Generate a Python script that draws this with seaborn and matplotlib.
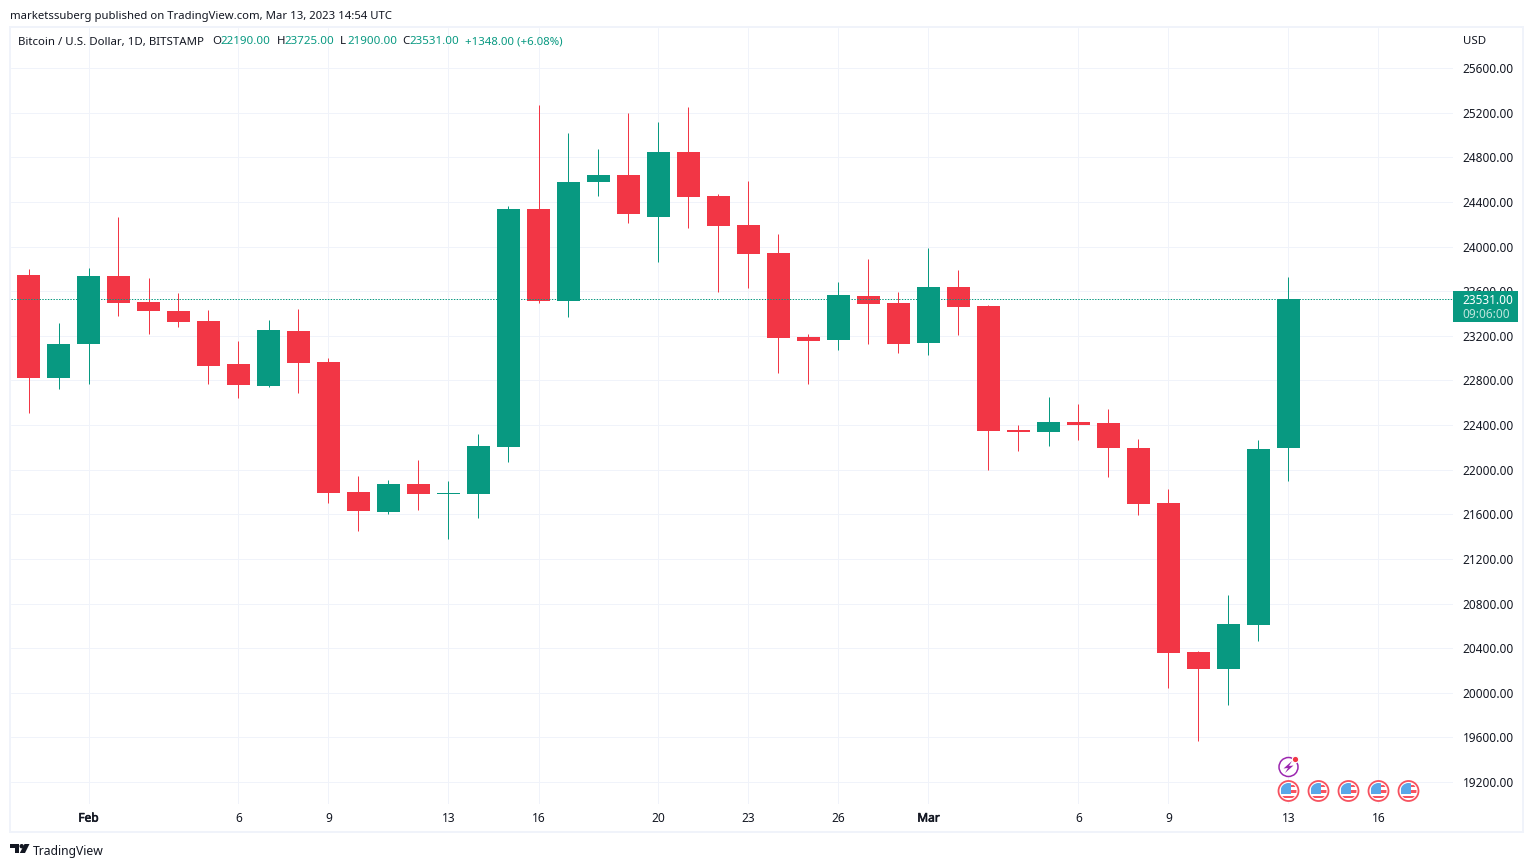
import numpy as np
import pandas as pd
import matplotlib
matplotlib.use("Agg")
import matplotlib.pyplot as plt
from matplotlib.patches import Rectangle, Circle, Polygon
from matplotlib.transforms import Affine2D
import matplotlib.patheffects as pe
import seaborn as sns

opens = [23745, 22821, 23126, 23736, 23503, 23422, 23332, 22947, 22750, 23243, 22965,
         21800, 21620, 21871, 21782, 21782, 22203, 24336, 23512, 24578, 24641, 24265,
         24847, 24453, 24193, 23942, 23189, 23162, 23557, 23494, 23135, 23637, 23467,
         22355, 22337, 22427, 22418, 22194, 21701, 20365, 20213, 20607, 22190]
highs = [23799, 23315, 23807, 24265, 23718, 23583, 23431, 23153, 23341, 23440, 23001,
         21943, 21907, 22086, 21898, 22319, 24363, 25269, 25018, 24874, 25197, 25116,
         25251, 24471, 24587, 24112, 23216, 23682, 23888, 23592, 23987, 23790, 23476,
         22400, 22651, 22588, 22544, 22275, 21826, 20370, 20876, 22266, 23725]
lows = [22508, 22723, 22768, 23377, 23216, 23279, 22768, 22642, 22740, 22687, 21701,
        21450, 21602, 21638, 21378, 21566, 22068, 23490, 23368, 24453, 24211, 23861,
        24166, 23592, 23628, 22866, 22768, 23072, 23126, 23046, 23028, 23207, 21997,
        22167, 22212, 22266, 21934, 21593, 20043, 19568, 19890, 20464, 21900]
closes = [22821, 23126, 23736, 23494, 23422, 23323, 22929, 22759, 23252, 22956, 21791,
          21629, 21871, 21782, 21790, 22212, 24336, 23512, 24578, 24641, 24292, 24847,
          24444, 24184, 23933, 23180, 23153, 23565, 23485, 23126, 23637, 23458, 22346,
          22340, 22427, 22400, 22194, 21692, 20356, 20213, 20616, 22185, 23531]

price_ticks = list(range(19200, 25601, 400))
time_tick_pos = [2, 7, 10, 14, 17, 21, 24, 27, 30, 35, 38, 42, 45]
time_tick_lab = ["Feb", "6", "9", "13", "16", "20", "23", "26", "Mar", "6", "9", "13", "16"]

GREEN = "#089981"
RED = "#F23645"
INK = "#131722"
GRID = "#f0f3fa"

W, H = 1533, 867
sns.set_theme(style="white")
FONT = "Noto Sans"
plt.rcParams["font.family"] = [FONT, "DejaVu Sans"]

fig = plt.figure(figsize=(W / 100, H / 100), dpi=100, facecolor="white")
px = Affine2D().scale(1, -1).translate(0, H)  # figure pixels, y downward

AX_L, AX_R, AX_T, AX_B = 11, 1453, 28, 804
ax = fig.add_axes([AX_L / W, 1 - AX_B / H, (AX_R - AX_L) / W, (AX_B - AX_T) / H])

df = pd.DataFrame({"i": np.arange(len(opens)), "o": opens, "h": highs, "l": lows, "c": closes})
df["dir"] = np.where(df.c >= df.o, "up", "down")
df["bottom"] = df[["o", "c"]].min(axis=1)
df["size"] = (df.o - df.c).abs().clip(lower=9)
palette = {"up": GREEN, "down": RED}

wicks = pd.concat([df.assign(y=df.h), df.assign(y=df.l)]).sort_values("i")
sns.lineplot(data=wicks, x="i", y="y", units="i", estimator=None, hue="dir", palette=palette,
             linewidth=0.72, legend=False, ax=ax, zorder=2, solid_capstyle="butt")
for d, sub in df.groupby("dir"):
    sns.barplot(data=sub, x="i", y="size", bottom=sub["bottom"].values, color=palette[d],
                native_scale=True, width=0.767, saturation=1, errorbar=None,
                ax=ax, zorder=3, linewidth=0)

ax.set_xlim((AX_L - 28.5) / 30, (AX_R - 28.5) / 30)
ax.set_ylim(19200 + (782 - AX_B) * 8.964, 19200 + (782 - AX_T) * 8.964)
ax.axhline(closes[-1], color=GREEN, lw=0.72, ls=(0, (1.4, 1.4)), zorder=4)

ax.set_xlabel("")
ax.set_ylabel("")
ax.set_xticks(time_tick_pos, time_tick_lab)
ax.set_yticks(price_ticks, [f"{p:.2f}" for p in price_ticks])
ax.yaxis.tick_right()
ax.tick_params(axis="y", length=0, pad=7, labelsize=8.5, labelcolor=INK)
ax.tick_params(axis="x", length=0, pad=5.5, labelsize=8.6, labelcolor=INK)
for lab in ax.get_xticklabels():
    if lab.get_text() in ("Feb", "Mar"):
        lab.set_path_effects([pe.withStroke(linewidth=0.45, foreground=INK)])
ax.grid(True, color=GRID, lw=0.72, zorder=0)
ax.set_axisbelow(True)
for s in ax.spines.values():
    s.set_visible(False)

# outer frame
fig.add_artist(Rectangle((10, 27), 1513, 805, transform=px, fill=False, ec=GRID, lw=1.44, zorder=1))


def text(x, y, s, color=INK, size=8.5, ha="left", **kw):
    return fig.text(x, y, s, transform=px, color=color, fontsize=size, ha=ha, va="center", zorder=8, **kw)


text(10, 16, "marketssuberg published on TradingView.com, Mar 13, 2023 14:54 UTC", size=8.15)
text(18, 42, "Bitcoin / U.S. Dollar, 1D, BITSTAMP", size=8.25)
for x, lab, val in [(212, "O", "22190.00"), (277, "H", "23725.00"), (340, "L", "21900.00"), (402, "C", "23531.00")]:
    text(x, 42, lab, size=8.25)
    text(x + (8 if lab == "O" else 7), 42, val, color=GREEN, size=8.3)
text(465, 42, "+1348.00 (+6.08%)", color=GREEN, size=8.2)
text(1463, 42, "USD", size=8.25)

# last price badge
fig.add_artist(Rectangle((1453, 291), 65, 31, transform=px, fc=GREEN, ec="none", zorder=7))
text(1462.5, 300, f"{closes[-1]:.2f}", color="white")
text(1462.5, 314, "09:06:00", color="#bfe5dd")

# footer logo + name
fig.add_artist(Polygon([(10, 844), (19, 844), (19, 853), (14.5, 853), (14.5, 848), (10, 848)],
                       transform=px, fc=INK, ec="none", zorder=8))
fig.add_artist(Circle((21.7, 846.2), 2.2, transform=px, fc=INK, ec="none", zorder=8))
fig.add_artist(Polygon([(24.5, 844), (29.5, 844), (25, 853), (19.8, 853)], transform=px, fc=INK, ec="none", zorder=8))
text(33, 851, "TradingView", size=8.75)


# event markers
def flag(cx, cy):
    fig.add_artist(Circle((cx, cy), 10, transform=px, fc="white", ec="#f7525f", lw=1.3, zorder=8))
    clip = Circle((cx, cy), 8, transform=px)
    for (x0, y0, w, h, c) in [(-8, -8, 10, 10.5, "#5aa7e8"), (2, -6, 8, 2, "#f7525f"),
                              (2, -1, 8, 2.6, "#f7525f"), (-8, 4.5, 16, 2.8, "#f7525f")]:
        r = Rectangle((cx + x0, cy + y0), w, h, transform=px, fc=c, ec="none", zorder=9)
        fig.add_artist(r)
        r.set_clip_path(clip)


for cx in [1288.5, 1318.5, 1348.5, 1378.5, 1408.5]:
    flag(cx, 791)

fig.add_artist(Circle((1288.5, 767), 9.5, transform=px, fc="white", ec="#9c27b0", lw=1.1, zorder=8))
cx, cy = 1288.5, 767
fig.add_artist(Polygon([(cx + 3.5, cy - 6), (cx - 5, cy + 1.5), (cx - 0.5, cy + 1), (cx - 3.5, cy + 6),
                        (cx + 5, cy - 1.5), (cx + 0.5, cy - 1)], transform=px, fc="#9c27b0", ec="none", zorder=9))
fig.add_artist(Circle((1295.5, 759.5), 3.2, transform=px, fc=RED, ec="white", lw=0.8, zorder=9))

fig.savefig("out.png", dpi=100)
